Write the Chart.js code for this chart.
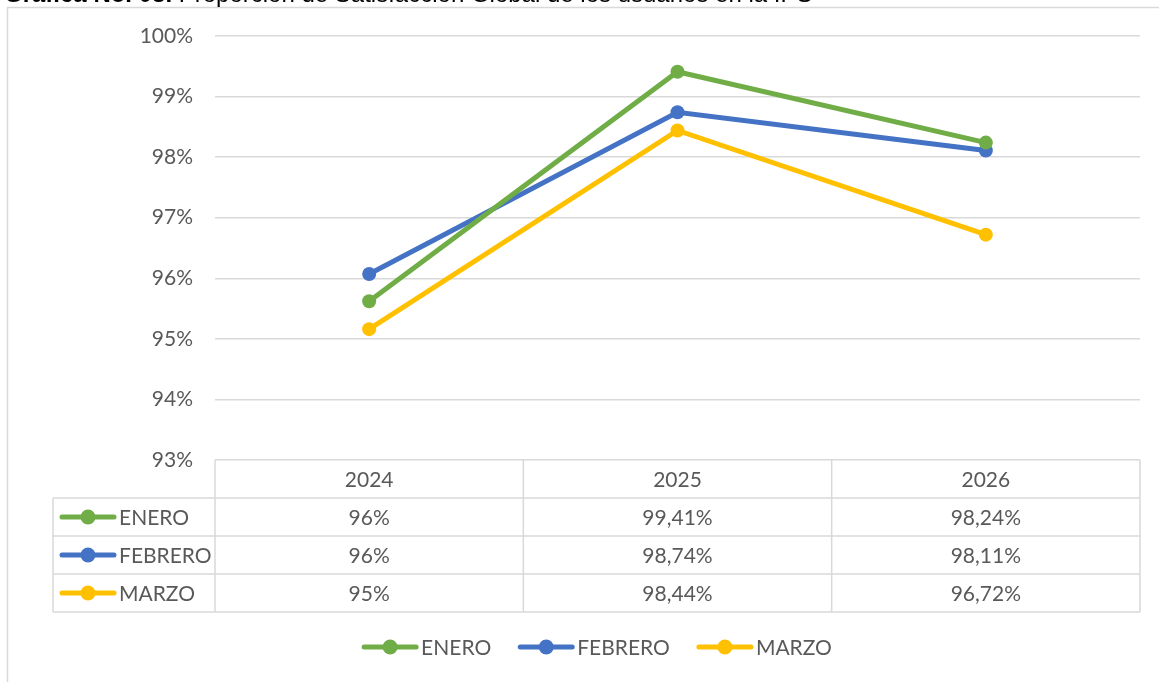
<!DOCTYPE html>
<html>
<head>
<meta charset="utf-8">
<script src="https://cdn.jsdelivr.net/npm/chart.js@4.4.1/dist/chart.umd.min.js"></script>
<style>
  html, body { margin: 0; padding: 0; background: #fff; overflow: hidden; }
  #wrap { position: relative; width: 1159px; height: 682px; }
  #titulo {
    position: absolute; left: 4px; top: -18px; white-space: nowrap;
    font-family: "Liberation Sans", Arial, sans-serif; font-size: 24px; line-height: 24px; color: #000;
  }
  canvas { position: absolute; left: 0; top: 0; }
</style>
</head>
<body>
<div id="wrap">
  <canvas id="grafica" width="1159" height="682"></canvas>
  <div id="titulo"><b>Gráfica No. 08.</b> Proporción de Satisfacción Global de los usuarios en la IPS</div>
</div>
<script>
// datos
const anios = ['2024', '2025', '2026'];
const series = ['ENERO', 'FEBRERO', 'MARZO'];
const enero = [95.62, 99.41, 98.24];
const febrero = [96.07, 98.74, 98.11];
const marzo = [95.16, 98.44, 96.72];
// lo que muestra la tabla de datos
const eneroTxt = ['96%', '99,41%', '98,24%'];
const febreroTxt = ['96%', '98,74%', '98,11%'];
const marzoTxt = ['95%', '98,44%', '96,72%'];
const ejeY = [93, 94, 95, 96, 97, 98, 99, 100];

const colores = ['#70AD47', '#4472C4', '#FFC000'];
const textos = [eneroTxt, febreroTxt, marzoTxt];
const FUENTE = 'Lato, "Noto Sans", sans-serif';
const TAM = 21;
const GRIS = '#d9d9d9';
const TEXTO = '#595959';

function clave(ctx, x, y, color) {
    // línea con punto, como la leyenda de Excel
    ctx.save();
    ctx.strokeStyle = color;
    ctx.lineWidth = 5;
    ctx.lineCap = 'round';
    ctx.beginPath();
    ctx.moveTo(x + 2, y);
    ctx.lineTo(x + 54, y);
    ctx.stroke();
    ctx.fillStyle = color;
    ctx.beginPath();
    ctx.arc(x + 28, y, 7.5, 0, Math.PI * 2);
    ctx.fill();
    ctx.restore();
}

const tablaPlugin = {
    id: 'tabla',
    beforeDraw(chart) {
        const ctx = chart.ctx;
        ctx.save();
        ctx.strokeStyle = GRIS;
        ctx.lineWidth = 1.5;
        ctx.beginPath();
        ctx.moveTo(7.5, 700);
        ctx.lineTo(7.5, 7.5);
        ctx.lineTo(1170, 7.5);
        ctx.stroke();
        ctx.restore();
    },
    afterDraw(chart) {
        const ctx = chart.ctx;
        const xs = chart.scales.x;
        const area = chart.chartArea;
        const top = area.bottom;
        const filaH = 38;
        const izq = 53;
        const n = anios.length;
        const centros = anios.map((a, i) => xs.getPixelForValue(i));
        const cortes = [area.left];
        for (let i = 0; i < n - 1; i++) cortes.push((centros[i] + centros[i + 1]) / 2);
        cortes.push(area.right);
        const fondo = top + filaH * (series.length + 1);

        ctx.save();
        ctx.strokeStyle = GRIS;
        ctx.lineWidth = 1.5;
        ctx.beginPath();
        cortes.forEach(c => { ctx.moveTo(c, top); ctx.lineTo(c, fondo); });
        ctx.moveTo(izq, top + filaH); ctx.lineTo(izq, fondo);
        for (let r = 1; r <= series.length + 1; r++) {
            const y = top + filaH * r;
            ctx.moveTo(izq, y); ctx.lineTo(area.right, y);
        }
        ctx.stroke();

        ctx.font = TAM + 'px ' + FUENTE;
        ctx.fillStyle = TEXTO;
        ctx.textBaseline = 'middle';
        ctx.textAlign = 'center';
        anios.forEach((a, i) => ctx.fillText(a, centros[i], top + filaH / 2 + 1));
        series.forEach((s, r) => {
            const y = top + filaH * (r + 1.5) + 1;
            textos[r].forEach((t, i) => ctx.fillText(t, centros[i], y));
        });
        ctx.textAlign = 'left';
        series.forEach((s, r) => {
            const y = top + filaH * (r + 1.5);
            clave(ctx, 60, y, colores[r]);
            ctx.fillStyle = TEXTO;
            ctx.fillText(s, 119, y + 1);
        });

        // leyenda inferior
        const ly = 647;
        const anchos = series.map(s => ctx.measureText(s).width);
        const total = anchos.reduce((a, b) => a + b, 0) + series.length * 59 + (series.length - 1) * 27;
        let x = 597 - total / 2;
        series.forEach((s, r) => {
            clave(ctx, x, ly, colores[r]);
            ctx.fillStyle = TEXTO;
            ctx.fillText(s, x + 59, ly + 1);
            x += 59 + anchos[r] + 27;
        });
        ctx.restore();
    }
};

const datos = [enero, febrero, marzo];

new Chart(document.getElementById('grafica'), {
    type: 'line',
    data: {
        labels: anios,
        datasets: series.map((s, i) => ({
            label: s,
            data: datos[i],
            borderColor: colores[i],
            backgroundColor: colores[i],
            borderWidth: 5,
            pointRadius: 7,
            pointHoverRadius: 7,
            pointBorderWidth: 0,
            tension: 0
        }))
    },
    options: {
        responsive: false,
        animation: false,
        events: [],
        layout: { padding: { top: 36, right: 19, bottom: 71, left: 0 } },
        plugins: {
            legend: { display: false },
            tooltip: { enabled: false }
        },
        scales: {
            x: {
                offset: true,
                grid: { display: false },
                border: { display: false },
                ticks: { display: false },
                afterFit(scale) { scale.height = 151; }
            },
            y: {
                min: ejeY[0],
                max: ejeY[ejeY.length - 1],
                afterBuildTicks(scale) { scale.ticks = ejeY.map(v => ({ value: v })); },
                afterFit(scale) { scale.width = 215; },
                grid: { color: GRIS, lineWidth: 1.5, drawTicks: false },
                border: { display: false },
                ticks: {
                    padding: 22,
                    color: TEXTO,
                    font: { family: FUENTE, size: TAM },
                    callback: v => v + '%'
                }
            }
        }
    },
    plugins: [tablaPlugin]
});
</script>
</body>
</html>
